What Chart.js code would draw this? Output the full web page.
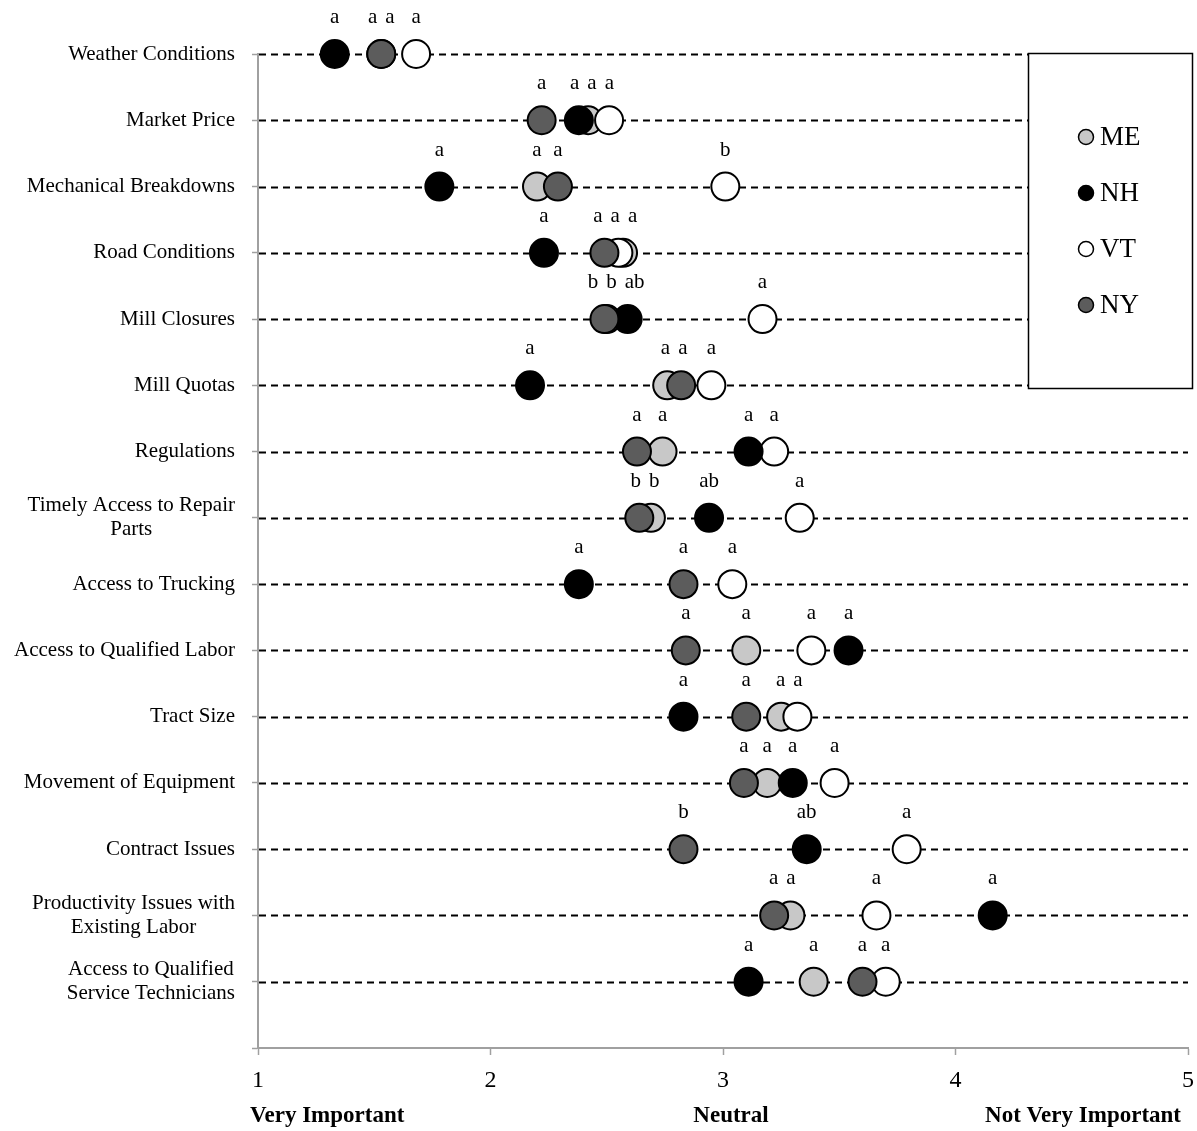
<!DOCTYPE html>
<html>
<head>
<meta charset="utf-8">
<script src="https://cdn.jsdelivr.net/npm/chart.js@4.4.0/dist/chart.umd.min.js"></script>
<style>
  html, body { margin: 0; padding: 0; background: #fff; }
</style>
</head>
<body>
<canvas id="myChart" width="1197" height="1131"></canvas>
<script>
// rows, top to bottom (two-line labels are arrays)
const categories = [
  'Weather Conditions',
  'Market Price',
  'Mechanical Breakdowns',
  'Road Conditions',
  'Mill Closures',
  'Mill Quotas',
  'Regulations',
  ['Timely Access to Repair', 'Parts'],
  'Access to Trucking',
  'Access to Qualified Labor',
  'Tract Size',
  'Movement of Equipment',
  'Contract Issues',
  ['Productivity Issues with', 'Existing Labor'],
  ['Access to Qualified', 'Service Technicians'],
];

const states = ['ME', 'NH', 'VT', 'NY'];

// mean ratings (1 = very important, 5 = not very important)
const meValues = [1.53, 2.42, 2.20, 2.57, 2.50, 2.76, 2.74, 2.69, null, 3.10, 3.25, 3.19, null, 3.29, 3.39];
const nhValues = [1.33, 2.38, 1.78, 2.23, 2.59, 2.17, 3.11, 2.94, 2.38, 3.54, 2.83, 3.30, 3.36, 4.16, 3.11];
const vtValues = [1.68, 2.51, 3.01, 2.55, 3.17, 2.95, 3.22, 3.33, 3.04, 3.38, 3.32, 3.48, 3.79, 3.66, 3.70];
const nyValues = [1.53, 2.22, 2.29, 2.49, 2.49, 2.82, 2.63, 2.64, 2.83, 2.84, 3.10, 3.09, 2.83, 3.22, 3.60];

// significance letters shown above the markers
const meLetters = ['a', 'a', 'a', 'a', 'b', 'a', 'a', 'b', '', 'a', 'a', 'a', '', 'a', 'a'];
const nhLetters = ['a', 'a', 'a', 'a', 'ab', 'a', 'a', 'ab', 'a', 'a', 'a', 'a', 'ab', 'a', 'a'];
const vtLetters = ['a', 'a', 'b', 'a', 'a', 'a', 'a', 'a', 'a', 'a', 'a', 'a', 'a', 'a', 'a'];
const nyLetters = ['a', 'a', 'a', 'a', 'b', 'a', 'a', 'b', 'a', 'a', 'a', 'a', 'b', 'a', 'a'];

const xTicks = [1, 2, 3, 4, 5];
const bottomLabels = ['Very Important', 'Neutral', 'Not Very Important'];
const bottomLabelValues = [1, 3, 5];

const serif = "'Liberation Serif', 'Times New Roman', serif";
const colors = { ME: '#c8c8c8', NH: '#000000', VT: '#ffffff', NY: '#5c5c5c' };
const axisGray = '#a0a0a0';

const rowCount = categories.length;
const rowValue = (i) => rowCount - i;

function toPoints(values) {
  return values
    .map((v, i) => (v === null ? null : { x: v, y: rowValue(i) }))
    .filter((p) => p !== null);
}

const valuesByState = { ME: meValues, NH: nhValues, VT: vtValues, NY: nyValues };
const lettersByState = { ME: meLetters, NH: nhLetters, VT: vtLetters, NY: nyLetters };
// NY drawn on top, ME at the bottom
const drawOrder = { NY: 0, NH: 1, VT: 2, ME: 3 };

const datasets = states.map((s) => ({
  label: s,
  data: toPoints(valuesByState[s]),
  backgroundColor: colors[s],
  borderColor: '#000',
  borderWidth: 2,
  pointRadius: 14,
  pointHoverRadius: 14,
  order: drawOrder[s],
  clip: false,
}));

// dashed guide line on every row
const rowLines = {
  id: 'rowLines',
  beforeDatasetsDraw(chart) {
    const { ctx, chartArea, scales } = chart;
    ctx.save();
    ctx.strokeStyle = '#000';
    ctx.lineWidth = 1.8;
    ctx.setLineDash([7, 5]);
    for (let i = 0; i < rowCount; i++) {
      const py = Math.round(scales.y.getPixelForValue(rowValue(i))) + 0.5;
      ctx.beginPath();
      ctx.moveTo(chartArea.left + 1, py);
      ctx.lineTo(chartArea.right, py);
      ctx.stroke();
    }
    ctx.restore();
  },
};

// category names, right-aligned as a block, lines centred within it
const rowLabels = {
  id: 'rowLabels',
  afterDraw(chart) {
    const { ctx, chartArea, scales } = chart;
    ctx.save();
    ctx.font = '21px ' + serif;
    ctx.fillStyle = '#000';
    ctx.textAlign = 'center';
    ctx.textBaseline = 'middle';
    categories.forEach((cat, i) => {
      const lines = Array.isArray(cat) ? cat : [cat];
      const py = scales.y.getPixelForValue(rowValue(i));
      const blockW = Math.max(...lines.map((l) => ctx.measureText(l).width));
      const cx = chartArea.left - 23 - blockW / 2;
      lines.forEach((l, k) => {
        ctx.fillText(l, cx, py + (k - (lines.length - 1) / 2) * 24);
      });
    });
    ctx.restore();
  },
};

// push overlapping letters apart, keeping each group centred on its markers
function spreadLabels(items, gap) {
  const blocks = [];
  items.forEach((it) => {
    blocks.push({ items: [it] });
    layoutBlock(blocks[blocks.length - 1], gap);
    while (blocks.length > 1) {
      const b = blocks[blocks.length - 1];
      const a = blocks[blocks.length - 2];
      if (a.left + a.width + gap > b.left) {
        a.items = a.items.concat(b.items);
        blocks.pop();
        layoutBlock(a, gap);
      } else break;
    }
  });
  return items;
}

function layoutBlock(block, gap) {
  let off = 0;
  let sum = 0;
  block.items.forEach((it) => {
    it.offset = off + it.w / 2;
    sum += it.x - it.offset;
    off += it.w + gap;
  });
  block.width = off - gap;
  block.left = sum / block.items.length;
  block.items.forEach((it) => {
    it.cx = block.left + it.offset;
  });
}

const sigLetters = {
  id: 'sigLetters',
  afterDatasetsDraw(chart) {
    const { ctx, scales } = chart;
    ctx.save();
    ctx.font = '21px ' + serif;
    ctx.fillStyle = '#000';
    ctx.textAlign = 'center';
    ctx.textBaseline = 'alphabetic';
    for (let i = 0; i < rowCount; i++) {
      const items = [];
      states.forEach((s) => {
        const v = valuesByState[s][i];
        const t = lettersByState[s][i];
        if (v === null || !t) return;
        items.push({ x: scales.x.getPixelForValue(v), w: ctx.measureText(t).width, text: t });
      });
      items.sort((a, b) => a.x - b.x);
      spreadLabels(items, 8);
      const py = scales.y.getPixelForValue(rowValue(i));
      items.forEach((it) => ctx.fillText(it.text, it.cx, py - 31));
    }
    ctx.restore();
  },
};

// boxed legend sitting over the right end of the top rows
const boxLegend = {
  id: 'boxLegend',
  afterDraw(chart) {
    const { ctx, chartArea } = chart;
    const left = chartArea.right - 160;
    const top = chartArea.top - 1;
    const w = 164;
    const h = 335;
    ctx.save();
    ctx.fillStyle = '#fff';
    ctx.fillRect(left, top, w, h);
    ctx.strokeStyle = '#000';
    ctx.lineWidth = 1.5;
    ctx.strokeRect(left + 0.5, top + 0.5, w, h);
    ctx.font = '27px ' + serif;
    ctx.textAlign = 'left';
    ctx.textBaseline = 'middle';
    states.forEach((s, k) => {
      const mx = left + 58;
      const my = top + 84 + k * 56;
      ctx.beginPath();
      ctx.arc(mx, my, 7.5, 0, Math.PI * 2);
      ctx.fillStyle = colors[s];
      ctx.fill();
      ctx.lineWidth = 1.5;
      ctx.strokeStyle = '#000';
      ctx.stroke();
      ctx.fillStyle = '#000';
      ctx.fillText(s, mx + 14, my + 1);
    });
    ctx.restore();
  },
};

const bottomTitles = {
  id: 'bottomTitles',
  afterDraw(chart) {
    const { ctx, chartArea, scales } = chart;
    ctx.save();
    ctx.font = 'bold 23px ' + serif;
    ctx.fillStyle = '#000';
    ctx.textBaseline = 'alphabetic';
    const y = chartArea.bottom + 74;
    const aligns = ['left', 'center', 'right'];
    const shifts = [-8, 8, -7];
    bottomLabels.forEach((t, k) => {
      ctx.textAlign = aligns[k];
      ctx.fillText(t, scales.x.getPixelForValue(bottomLabelValues[k]) + shifts[k], y);
    });
    ctx.restore();
  },
};

const config = {
  type: 'scatter',
  data: { datasets: datasets },
  options: {
    responsive: false,
    animation: false,
    devicePixelRatio: 1,
    layout: { autoPadding: false, padding: { top: 54, right: 9, left: 0, bottom: 0 } },
    plugins: {
      legend: { display: false },
      tooltip: { enabled: false },
    },
    scales: {
      x: {
        type: 'linear',
        min: 1,
        max: 5,
        afterBuildTicks: (scale) => {
          scale.ticks = xTicks.map((v) => ({ value: v }));
        },
        ticks: {
          font: { family: serif, size: 24 },
          color: '#000',
          padding: 11,
        },
        grid: {
          drawOnChartArea: false,
          tickLength: 7,
          tickColor: axisGray,
          tickWidth: 1.5,
        },
        border: { color: axisGray, width: 2 },
        afterFit: (scale) => {
          scale.height = 83;
          scale.paddingLeft = 0;
          scale.paddingRight = 0;
        },
      },
      y: {
        type: 'linear',
        min: 0,
        max: rowCount,
        afterBuildTicks: (scale) => {
          const t = [];
          for (let v = 0; v <= rowCount; v++) t.push({ value: v });
          scale.ticks = t;
        },
        ticks: { display: false },
        grid: {
          drawOnChartArea: false,
          tickLength: 6,
          tickColor: axisGray,
          tickWidth: 1.5,
        },
        border: { color: axisGray, width: 2 },
        afterFit: (scale) => {
          scale.width = 258;
          scale.paddingTop = 0;
          scale.paddingBottom = 0;
        },
      },
    },
  },
  plugins: [rowLines, sigLetters, rowLabels, boxLegend, bottomTitles],
};

const myChart = new Chart(document.getElementById('myChart'), config);
</script>
</body>
</html>
